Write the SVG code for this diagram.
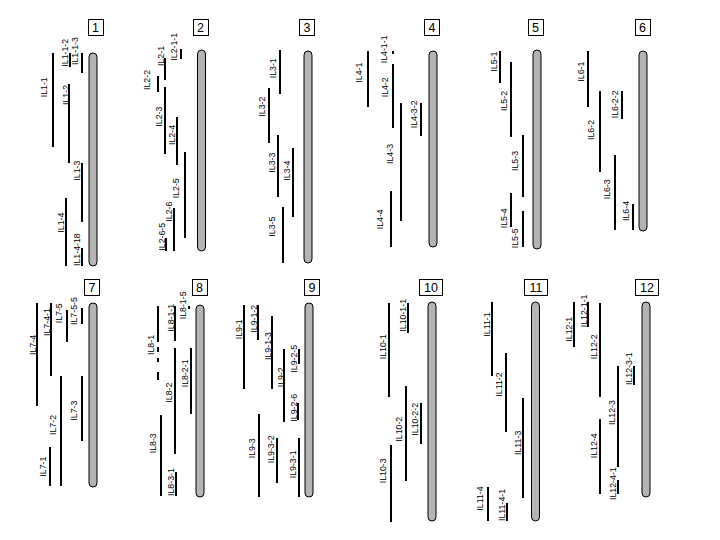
<svg xmlns="http://www.w3.org/2000/svg" width="720" height="540" viewBox="0 0 720 540">
<style>
.chr{fill:#b4b4b4;stroke:#000;stroke-width:1}
.seg{stroke:#000;stroke-width:2;fill:none;shape-rendering:crispEdges}
.lbl{font-family:"Liberation Sans",Arial,sans-serif;font-size:8.8px;fill:#000}
.box{fill:#fff;stroke:#000;stroke-width:1;shape-rendering:crispEdges}
.num{font-family:"Liberation Sans",Arial,sans-serif;font-size:12.5px;fill:#000;text-anchor:middle}
</style>
<rect width="720" height="540" fill="#fff"/>

<g id="chr1">
<rect class="box" x="88" y="19.5" width="15" height="15.5"/><text class="num" x="95.5" y="31.5">1</text>
<rect class="chr" x="89" y="53" width="8" height="213" rx="4"/>
<g id="IL1-1"><line class="seg" x1="52.5" y1="53" x2="52.5" y2="147"/><text class="lbl" transform="translate(46.5,97.3) rotate(-90)">IL1-1</text></g>
<g id="IL1-1-2"><line class="seg" x1="70" y1="53" x2="70" y2="67"/><text class="lbl" transform="translate(67.8,66.7) rotate(-90)">IL1-1-2</text></g>
<g id="IL1-1-3"><line class="seg" x1="81.7" y1="53" x2="81.7" y2="72.7"/><text class="lbl" transform="translate(78.3,65) rotate(-90)">IL1-1-3</text></g>
<g id="IL1-2"><line class="seg" x1="69" y1="84" x2="69" y2="163"/><text class="lbl" transform="translate(68.5,105) rotate(-90)">IL1-2</text></g>
<g id="IL1-3"><line class="seg" x1="81.7" y1="162.7" x2="81.7" y2="221.7"/><text class="lbl" transform="translate(80.3,180.7) rotate(-90)">IL1-3</text></g>
<g id="IL1-4"><line class="seg" x1="65.7" y1="198" x2="65.7" y2="266"/><text class="lbl" transform="translate(63.8,232.7) rotate(-90)">IL1-4</text></g>
<g id="IL1-4-18"><line class="seg" x1="81.7" y1="248" x2="81.7" y2="266"/><text class="lbl" transform="translate(79.8,266) rotate(-90)">IL1-4-18</text></g>
</g>

<g id="chr2">
<rect class="box" x="193" y="19.5" width="15" height="15.5"/><text class="num" x="200.5" y="31.5">2</text>
<rect class="chr" x="197.5" y="50" width="8" height="201" rx="4"/>
<g id="IL2-1"><line class="seg" x1="165" y1="58.3" x2="165" y2="80"/><text class="lbl" transform="translate(163.8,66) rotate(-90)">IL2-1</text></g>
<g id="IL2-1-1"><line class="seg" x1="181" y1="49.3" x2="181" y2="59.3"/><text class="lbl" transform="translate(177.3,60.7) rotate(-90)">IL2-1-1</text></g>
<g id="IL2-2"><line class="seg" x1="157.7" y1="76" x2="157.7" y2="91.7"/><text class="lbl" transform="translate(149.8,90) rotate(-90)">IL2-2</text></g>
<g id="IL2-3"><line class="seg" x1="165" y1="87.3" x2="165" y2="154"/><text class="lbl" transform="translate(162.3,126.7) rotate(-90)">IL2-3</text></g>
<g id="IL2-4"><line class="seg" x1="176.7" y1="116.7" x2="176.7" y2="165"/><text class="lbl" transform="translate(174.8,145) rotate(-90)">IL2-4</text></g>
<g id="IL2-5"><line class="seg" x1="185" y1="152.3" x2="185" y2="237.7"/><text class="lbl" transform="translate(178.8,198.3) rotate(-90)">IL2-5</text></g>
<g id="IL2-6"><line class="seg" x1="174" y1="207.7" x2="174" y2="250.7"/><text class="lbl" transform="translate(172.3,221.7) rotate(-90)">IL2-6</text></g>
<g id="IL2-6-5"><line class="seg" x1="165.7" y1="237.7" x2="165.7" y2="250.7"/><text class="lbl" transform="translate(164.8,250.7) rotate(-90)">IL2-6-5</text></g>
</g>

<g id="chr3">
<rect class="box" x="299.5" y="19.5" width="15" height="15.5"/><text class="num" x="307" y="31.5">3</text>
<rect class="chr" x="304" y="51" width="8" height="212" rx="4"/>
<g id="IL3-1"><line class="seg" x1="280" y1="50" x2="280" y2="94.3"/><text class="lbl" transform="translate(276.3,78.3) rotate(-90)">IL3-1</text></g>
<g id="IL3-2"><line class="seg" x1="269" y1="87.7" x2="269" y2="142.7"/><text class="lbl" transform="translate(264.8,116.7) rotate(-90)">IL3-2</text></g>
<g id="IL3-3"><line class="seg" x1="277.7" y1="135" x2="277.7" y2="197.3"/><text class="lbl" transform="translate(275.3,172.7) rotate(-90)">IL3-3</text></g>
<g id="IL3-4"><line class="seg" x1="292.7" y1="148.3" x2="292.7" y2="216.7"/><text class="lbl" transform="translate(289.8,180.7) rotate(-90)">IL3-4</text></g>
<g id="IL3-5"><line class="seg" x1="282.7" y1="207.3" x2="282.7" y2="262.7"/><text class="lbl" transform="translate(275.3,236.7) rotate(-90)">IL3-5</text></g>
</g>

<g id="chr4">
<rect class="box" x="424.5" y="19.5" width="15" height="15.5"/><text class="num" x="432" y="31.5">4</text>
<rect class="chr" x="429" y="51" width="8" height="196" rx="4"/>
<g id="IL4-1"><line class="seg" x1="367.7" y1="51" x2="367.7" y2="106.7"/><text class="lbl" transform="translate(362.3,82.7) rotate(-90)">IL4-1</text></g>
<g id="IL4-1-1"><line class="seg" x1="393.3" y1="51" x2="393.3" y2="54"/><text class="lbl" transform="translate(387.3,63.3) rotate(-90)">IL4-1-1</text></g>
<g id="IL4-2"><line class="seg" x1="392.7" y1="64" x2="392.7" y2="128.3"/><text class="lbl" transform="translate(388.3,97.3) rotate(-90)">IL4-2</text></g>
<g id="IL4-3-2"><line class="seg" x1="421" y1="102.7" x2="421" y2="136"/><text class="lbl" transform="translate(417.3,128.3) rotate(-90)">IL4-3-2</text></g>
<g id="IL4-3"><line class="seg" x1="400.7" y1="102.7" x2="400.7" y2="220.7"/><text class="lbl" transform="translate(392.8,164) rotate(-90)">IL4-3</text></g>
<g id="IL4-4"><line class="seg" x1="390.7" y1="191" x2="390.7" y2="246.7"/><text class="lbl" transform="translate(382.8,229.3) rotate(-90)">IL4-4</text></g>
</g>

<g id="chr5">
<rect class="box" x="528" y="19.5" width="15" height="15.5"/><text class="num" x="535.5" y="31.5">5</text>
<rect class="chr" x="533" y="50" width="8" height="199" rx="4"/>
<g id="IL5-1"><line class="seg" x1="500" y1="51" x2="500" y2="83.3"/><text class="lbl" transform="translate(496.8,71.7) rotate(-90)">IL5-1</text></g>
<g id="IL5-2"><line class="seg" x1="510.7" y1="61.7" x2="510.7" y2="137.3"/><text class="lbl" transform="translate(507.3,111) rotate(-90)">IL5-2</text></g>
<g id="IL5-3"><line class="seg" x1="522.7" y1="135" x2="522.7" y2="196.7"/><text class="lbl" transform="translate(518.3,171) rotate(-90)">IL5-3</text></g>
<g id="IL5-4"><line class="seg" x1="510.7" y1="192.7" x2="510.7" y2="226.7"/><text class="lbl" transform="translate(506.8,228.3) rotate(-90)">IL5-4</text></g>
<g id="IL5-5"><line class="seg" x1="522.7" y1="211" x2="522.7" y2="246.7"/><text class="lbl" transform="translate(518.3,248.3) rotate(-90)">IL5-5</text></g>
</g>

<g id="chr6">
<rect class="box" x="635" y="19.5" width="15" height="15.5"/><text class="num" x="642.5" y="31.5">6</text>
<rect class="chr" x="639" y="51" width="8" height="180" rx="4"/>
<g id="IL6-1"><line class="seg" x1="588.3" y1="51" x2="588.3" y2="106.7"/><text class="lbl" transform="translate(583.8,81.7) rotate(-90)">IL6-1</text></g>
<g id="IL6-2"><line class="seg" x1="600" y1="91" x2="600" y2="171.7"/><text class="lbl" transform="translate(593.8,140) rotate(-90)">IL6-2</text></g>
<g id="IL6-2-2"><line class="seg" x1="621.7" y1="90.7" x2="621.7" y2="119.3"/><text class="lbl" transform="translate(617.8,118.3) rotate(-90)">IL6-2-2</text></g>
<g id="IL6-3"><line class="seg" x1="615" y1="155" x2="615" y2="230"/><text class="lbl" transform="translate(609.8,199.3) rotate(-90)">IL6-3</text></g>
<g id="IL6-4"><line class="seg" x1="632.7" y1="204" x2="632.7" y2="230"/><text class="lbl" transform="translate(628.8,221) rotate(-90)">IL6-4</text></g>
</g>

<g id="chr7">
<rect class="box" x="84.5" y="279.5" width="15" height="15.5"/><text class="num" x="92" y="291.5">7</text>
<rect class="chr" x="89" y="303" width="8" height="184" rx="4"/>
<g id="IL7-4"><line class="seg" x1="36.7" y1="303.3" x2="36.7" y2="406"/><text class="lbl" transform="translate(35.5,355) rotate(-90)">IL7-4</text></g>
<g id="IL7-4-1"><line class="seg" x1="51" y1="303.3" x2="51" y2="376"/><text class="lbl" transform="translate(49.8,336) rotate(-90)">IL7-4-1</text></g>
<g id="IL7-5"><line class="seg" x1="66.7" y1="310" x2="66.7" y2="341.7"/><text class="lbl" transform="translate(62.3,323.3) rotate(-90)">IL7-5</text></g>
<g id="IL7-5-5"><line class="seg" x1="81.7" y1="308.3" x2="81.7" y2="324"/><text class="lbl" transform="translate(76.8,325) rotate(-90)">IL7-5-5</text></g>
<g id="IL7-3"><line class="seg" x1="81.7" y1="376" x2="81.7" y2="440.7"/><text class="lbl" transform="translate(77.3,420.7) rotate(-90)">IL7-3</text></g>
<g id="IL7-2"><line class="seg" x1="61" y1="376" x2="61" y2="486"/><text class="lbl" transform="translate(56.3,435) rotate(-90)">IL7-2</text></g>
<g id="IL7-1"><line class="seg" x1="50" y1="446.7" x2="50" y2="486"/><text class="lbl" transform="translate(45.8,476.7) rotate(-90)">IL7-1</text></g>
</g>

<g id="chr8">
<rect class="box" x="192" y="279.5" width="15" height="15.5"/><text class="num" x="199.5" y="291.5">8</text>
<rect class="chr" x="196" y="305" width="8" height="192" rx="4"/>
<g id="IL8-1"><line class="seg" x1="158.3" y1="306" x2="158.3" y2="342"/><line class="seg" x1="158.3" y1="346.7" x2="158.3" y2="351.7"/><line class="seg" x1="157.7" y1="358" x2="157.7" y2="362"/><line class="seg" x1="157.7" y1="371.7" x2="157.7" y2="380"/><text class="lbl" transform="translate(153.8,355) rotate(-90)">IL8-1</text></g>
<g id="IL8-1-1"><line class="seg" x1="175" y1="306" x2="175" y2="341"/><text class="lbl" transform="translate(173.8,331.7) rotate(-90)">IL8-1-1</text></g>
<g id="IL8-1-5"><line class="seg" x1="189.3" y1="306" x2="189.3" y2="309.3"/><text class="lbl" transform="translate(185.8,319.3) rotate(-90)">IL8-1-5</text></g>
<g id="IL8-2-1"><line class="seg" x1="190.7" y1="348.3" x2="190.7" y2="414"/><text class="lbl" transform="translate(187.8,387.3) rotate(-90)">IL8-2-1</text></g>
<g id="IL8-2"><line class="seg" x1="175" y1="348.3" x2="175" y2="454.3"/><text class="lbl" transform="translate(172.3,402.7) rotate(-90)">IL8-2</text></g>
<g id="IL8-3"><line class="seg" x1="161" y1="415" x2="161" y2="496"/><text class="lbl" transform="translate(155.8,453.3) rotate(-90)">IL8-3</text></g>
<g id="IL8-3-1"><line class="seg" x1="176" y1="471.7" x2="176" y2="496"/><text class="lbl" transform="translate(173.8,496) rotate(-90)">IL8-3-1</text></g>
</g>

<g id="chr9">
<rect class="box" x="304.5" y="279.5" width="15" height="15.5"/><text class="num" x="312" y="291.5">9</text>
<rect class="chr" x="305" y="303" width="8" height="194" rx="4"/>
<g id="IL9-1"><line class="seg" x1="244" y1="305" x2="244" y2="389.3"/><text class="lbl" transform="translate(242.3,339.3) rotate(-90)">IL9-1</text></g>
<g id="IL9-1-2"><line class="seg" x1="258.3" y1="305" x2="258.3" y2="340"/><text class="lbl" transform="translate(257.3,332.7) rotate(-90)">IL9-1-2</text></g>
<g id="IL9-1-3"><line class="seg" x1="271.7" y1="316" x2="271.7" y2="389.3"/><text class="lbl" transform="translate(270.8,360) rotate(-90)">IL9-1-3</text></g>
<g id="IL9-2"><line class="seg" x1="284.3" y1="349.3" x2="284.3" y2="421.7"/><text class="lbl" transform="translate(283.8,387.3) rotate(-90)">IL9-2</text></g>
<g id="IL9-2-5"><line class="seg" x1="299.3" y1="349.3" x2="299.3" y2="364"/><text class="lbl" transform="translate(296.8,372.7) rotate(-90)">IL9-2-5</text></g>
<g id="IL9-2-6"><line class="seg" x1="298.3" y1="403.3" x2="298.3" y2="420"/><text class="lbl" transform="translate(296.8,421.7) rotate(-90)">IL9-2-6</text></g>
<g id="IL9-3"><line class="seg" x1="259" y1="414" x2="259" y2="496.7"/><text class="lbl" transform="translate(254.8,458.3) rotate(-90)">IL9-3</text></g>
<g id="IL9-3-2"><line class="seg" x1="276.7" y1="438.3" x2="276.7" y2="483.3"/><text class="lbl" transform="translate(273.8,463.3) rotate(-90)">IL9-3-2</text></g>
<g id="IL9-3-1"><line class="seg" x1="299" y1="438.3" x2="299" y2="496.7"/><text class="lbl" transform="translate(295.8,478.3) rotate(-90)">IL9-3-1</text></g>
</g>

<g id="chr10">
<rect class="box" x="419.5" y="279.5" width="23" height="15.5"/><text class="num" x="431" y="291.5">10</text>
<rect class="chr" x="428" y="302" width="8" height="219" rx="4"/>
<g id="IL10-1"><line class="seg" x1="389" y1="303.3" x2="389" y2="396.7"/><text class="lbl" transform="translate(385.8,359.3) rotate(-90)">IL10-1</text></g>
<g id="IL10-1-1"><line class="seg" x1="407.7" y1="303.3" x2="407.7" y2="332.7"/><text class="lbl" transform="translate(406.3,331.7) rotate(-90)">IL10-1-1</text></g>
<g id="IL10-2-2"><line class="seg" x1="420.7" y1="403.3" x2="420.7" y2="444"/><text class="lbl" transform="translate(417.8,435.7) rotate(-90)">IL10-2-2</text></g>
<g id="IL10-2"><line class="seg" x1="405.7" y1="386" x2="405.7" y2="480.7"/><text class="lbl" transform="translate(402.3,441.7) rotate(-90)">IL10-2</text></g>
<g id="IL10-3"><line class="seg" x1="391" y1="445" x2="391" y2="521.7"/><text class="lbl" transform="translate(385.8,483.3) rotate(-90)">IL10-3</text></g>
</g>

<g id="chr11">
<rect class="box" x="524.5" y="279.5" width="23" height="15.5"/><text class="num" x="536" y="291.5">11</text>
<rect class="chr" x="531.5" y="302" width="8" height="219" rx="4"/>
<g id="IL11-1"><line class="seg" x1="491.7" y1="302.3" x2="491.7" y2="376"/><text class="lbl" transform="translate(489.8,336.7) rotate(-90)">IL11-1</text></g>
<g id="IL11-2"><line class="seg" x1="505.7" y1="353.3" x2="505.7" y2="431.7"/><text class="lbl" transform="translate(502.3,396.7) rotate(-90)">IL11-2</text></g>
<g id="IL11-3"><line class="seg" x1="522.7" y1="398.3" x2="522.7" y2="497.7"/><text class="lbl" transform="translate(520.8,455) rotate(-90)">IL11-3</text></g>
<g id="IL11-4"><line class="seg" x1="487.7" y1="486.7" x2="487.7" y2="521"/><text class="lbl" transform="translate(482.8,510.7) rotate(-90)">IL11-4</text></g>
<g id="IL11-4-1"><line class="seg" x1="506.7" y1="503.3" x2="506.7" y2="521"/><text class="lbl" transform="translate(504.8,521) rotate(-90)">IL11-4-1</text></g>
</g>

<g id="chr12">
<rect class="box" x="635.5" y="279.5" width="23" height="15.5"/><text class="num" x="647" y="291.5">12</text>
<rect class="chr" x="642" y="302" width="8" height="195" rx="4"/>
<g id="IL12-1"><line class="seg" x1="574" y1="301.7" x2="574" y2="347.3"/><text class="lbl" transform="translate(572.3,341.7) rotate(-90)">IL12-1</text></g>
<g id="IL12-1-1"><line class="seg" x1="587.7" y1="301.7" x2="587.7" y2="327.3"/><text class="lbl" transform="translate(586.8,327.3) rotate(-90)">IL12-1-1</text></g>
<g id="IL12-2"><line class="seg" x1="600" y1="302.7" x2="600" y2="397.3"/><text class="lbl" transform="translate(597.3,359.3) rotate(-90)">IL12-2</text></g>
<g id="IL12-3-1"><line class="seg" x1="634" y1="366" x2="634" y2="385"/><text class="lbl" transform="translate(632.3,385) rotate(-90)">IL12-3-1</text></g>
<g id="IL12-3"><line class="seg" x1="617.7" y1="366" x2="617.7" y2="466.7"/><text class="lbl" transform="translate(614.8,425) rotate(-90)">IL12-3</text></g>
<g id="IL12-4"><line class="seg" x1="600" y1="419.3" x2="600" y2="494"/><text class="lbl" transform="translate(597.3,458.3) rotate(-90)">IL12-4</text></g>
<g id="IL12-4-1"><line class="seg" x1="618.3" y1="480" x2="618.3" y2="494"/><text class="lbl" transform="translate(616.3,500) rotate(-90)">IL12-4-1</text></g>
</g>
</svg>
